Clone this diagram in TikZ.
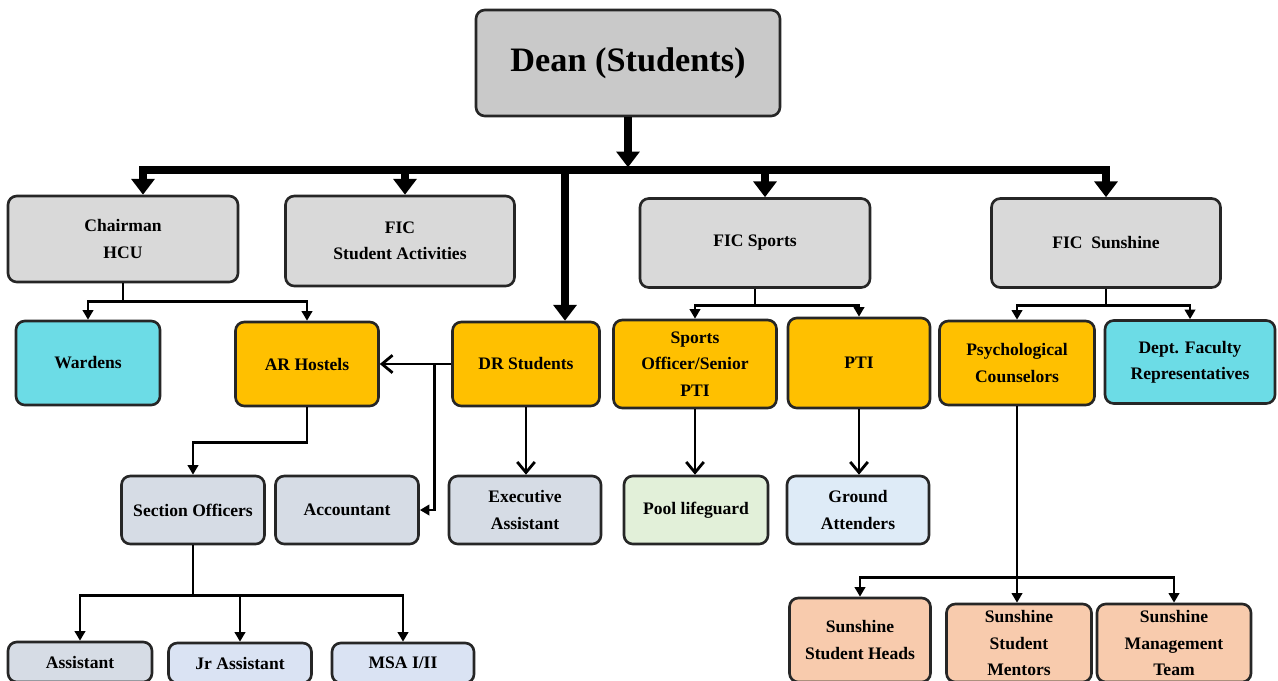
\documentclass[tikz,border=0pt]{standalone}
\usepackage{fontspec}
\setmainfont{Liberation Serif}
\usetikzlibrary{arrows.meta}
\newcommand{\px}{0.02cm}
\definecolor{deangray}{HTML}{C9C9C9}
\definecolor{headgray}{HTML}{D9D9D9}
\definecolor{cyanbox}{HTML}{6CDCE6}
\definecolor{gold}{HTML}{FFC000}
\definecolor{slate}{HTML}{D6DCE5}
\definecolor{paleblue}{HTML}{DAE3F3}
\definecolor{palegreen}{HTML}{E2F0D9}
\definecolor{skyblue}{HTML}{DEEBF7}
\definecolor{peach}{HTML}{F8CBAD}
\tikzset{
  box/.style={draw=black!85, line width=1.5pt, rounded corners=5pt, align=center,
    inner sep=0pt, font=\bfseries\fontsize{10}{15}\selectfont},
  sz/.style 2 args={minimum width=#1*\px, minimum height=#2*\px},
  bus/.style={line width=4.5pt, -{Triangle[width=13pt,length=9pt]}},
  link/.style={line width=1.6pt, -{Triangle[width=6pt,length=5.5pt]}},
  barb/.style={line width=1.6pt, -{Straight Barb[width=10pt,length=6pt]}},
}
\begin{document}
\begin{tikzpicture}[x=0.02cm,y=-0.02cm]
\useasboundingbox (0,0) rectangle (1278,680);
\clip (0,0) rectangle (1278,680);

\node[box, sz={304}{106}, fill=deangray, font=\bfseries\fontsize{19.5}{24}\selectfont] (dean) at (628,63) {Dean (Students)};

\node[box, sz={230}{86}, fill=headgray] (chair) at (123,239) {Chairman\\HCU};
\node[box, sz={229}{90}, fill=headgray] (fsa) at (400,241) {FIC\\Student Activities};
\node[box, sz={230}{89}, fill=headgray] (fsp) at (755,243) {FIC Sports};
\node[box, sz={229}{89}, fill=headgray] (fsun) at (1106,243) {FIC\ \ Sunshine};

\node[box, sz={144}{84}, fill=cyanbox] (ward) at (88,363) {Wardens};
\node[box, sz={143}{84}, fill=gold] (arh) at (307,364) {AR Hostels};
\node[box, sz={147}{84}, fill=gold] (drs) at (526,364) {DR Students};
\node[box, sz={163}{88}, fill=gold] (spo) at (695,364) {Sports\\Officer/Senior\\PTI};
\node[box, sz={142}{90}, fill=gold] (pti) at (859,363) {PTI};
\node[box, sz={155}{84}, fill=gold] (psy) at (1017,363) {Psychological\\Counselors};
\node[box, sz={170}{83}, fill=cyanbox] (dept) at (1190,362) {Dept. Faculty\\Representatives};

\node[box, sz={143}{68}, fill=slate] (sec) at (193,510) {Section Officers};
\node[box, sz={143}{68}, fill=slate] (acc) at (347,510) {Accountant};
\node[box, sz={152}{68}, fill=slate] (exa) at (525,510) {Executive\\Assistant};
\node[box, sz={144}{68}, fill=palegreen] (pool) at (696,510) {Pool lifeguard};
\node[box, sz={142}{68}, fill=skyblue] (gnd) at (858,510) {Ground\\Attenders};

\node[box, sz={144}{40}, fill=slate] (asst) at (80,662) {Assistant};
\node[box, sz={143}{40}, fill=paleblue] (jra) at (240,663) {Jr Assistant};
\node[box, sz={142}{40}, fill=paleblue] (msa) at (403,663) {MSA I/II};
\node[box, sz={141}{84}, fill=peach] (sh) at (860,640) {Sunshine\\Student Heads};
\node[box, sz={145}{78}, fill=peach] (sm) at (1019,643) {Sunshine\\Student\\Mentors};
\node[box, sz={154}{78}, fill=peach] (smt) at (1174,643) {Sunshine\\Management\\Team};

\coordinate (busy) at (0,170);
\coordinate (cd) at ([xshift=20*\px]chair.north);
\coordinate (fd) at ([xshift=5*\px]fsa.north);
\coordinate (dd) at ([xshift=39*\px]drs.north);
\coordinate (sd) at ([xshift=10*\px]fsp.north);
\draw[bus] (dean.south) -- ++(0,50);
\draw[line width=4.5pt, line cap=rect] (cd |- busy) -- (fsun.north |- busy);
\foreach \c in {cd,fd,dd,sd,fsun.north} {
  \draw[bus] (\c |- busy) -- (\c);
}

\foreach \n in {ward,arh} {
  \draw[link] (chair.south) -- ++(0,18) -| (\n.north);
}
\draw[barb] (drs.west) -- (arh.east);
\draw[link] ([xshift=-17*\px]drs.west) |- (acc.east);
\draw[link] (arh.south) -- ++(0,35) -| (sec.north);
\draw[barb] (drs.south) -- (drs.south |- exa.north);
\foreach \n in {asst,jra,msa} {
  \draw[link] (sec.south) -- ++(0,50) -| (\n.north);
}

\foreach \n in {spo,pti} {
  \draw[link] (fsp.south) -- ++(0,17) -| (\n.north);
}
\draw[barb] (spo.south) -- (spo.south |- pool.north);
\draw[barb] (pti.south) -- (pti.south |- gnd.north);

\foreach \n in {psy,dept} {
  \draw[link] (fsun.south) -- ++(0,17) -| (\n.north);
}
\draw[link] (psy.south) -- (psy.south |- sm.north);
\foreach \n in {sh,smt} {
  \draw[link] (psy.south) -- ++(0,171) -| (\n.north);
}
\end{tikzpicture}
\end{document}
